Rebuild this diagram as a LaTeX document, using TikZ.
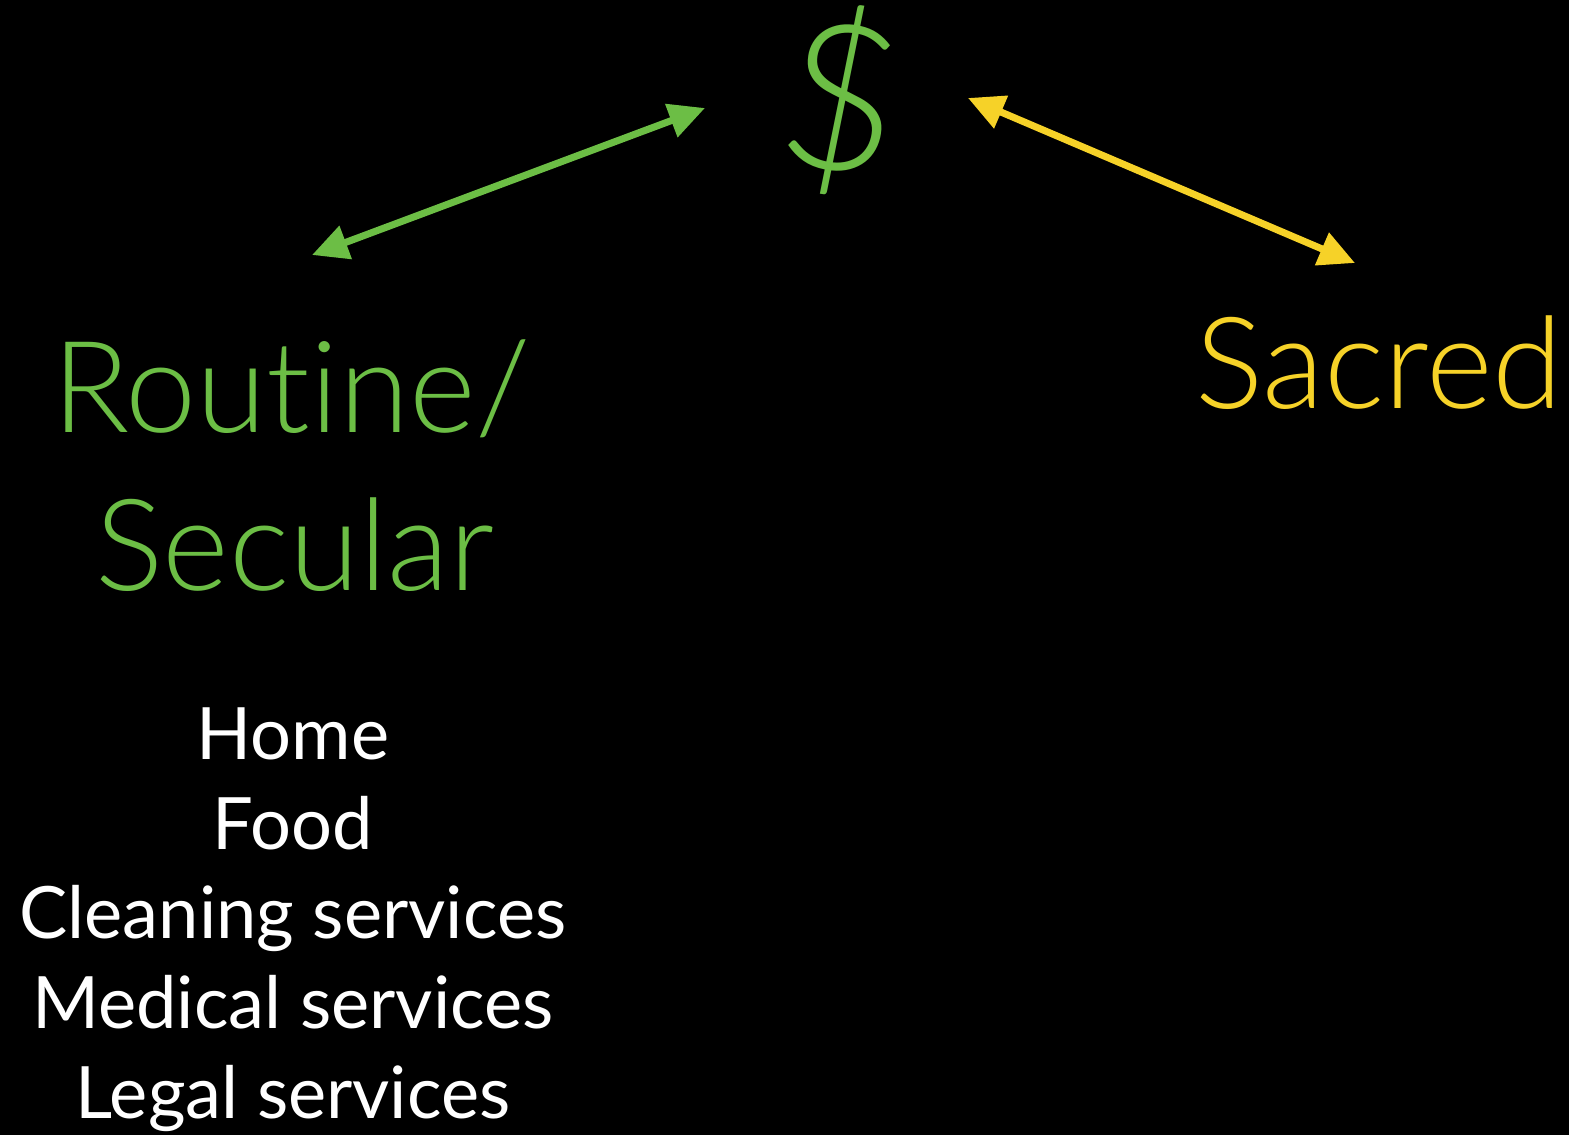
\documentclass[tikz,border=0pt]{standalone}
\usepackage{fontspec}
\setmainfont{Lato}
\newfontfamily\lightfont{Lato Light}[Ligatures=NoCommon]
\usetikzlibrary{arrows.meta}
\definecolor{grn}{RGB}{108,190,69}
\definecolor{ylw}{RGB}{246,210,40}
\tikzset{
  biarrow/.style={line width=7bp,{Triangle[length=36bp,width=34bp]}-{Triangle[length=36bp,width=34bp]}},
  title/.style={font=\lightfont\fontsize{128}{158}\selectfont, inner sep=0pt, anchor=base west},
  item/.style={font=\fontsize{72.5}{90}\selectfont, text=white, inner sep=0pt, align=center}
}
\begin{document}
\begin{tikzpicture}[x=1bp,y=-1bp]
\fill[black] (0,0) rectangle (1569,1135);
\useasboundingbox (0,0) rectangle (1569,1135);
\node[font=\lightfont\fontsize{205}{205}\selectfont, text=grn, rotate=-8.5, inner sep=0pt] (dollar) at (841,100) {\$};
\node[title, text=grn] (routine) at (52,432) {Routine/};
\node[title, text=grn] (secular) at (95,590) {Secular};
\node[title, text=ylw] (sacred) at (1195,408) {Sacred};
\coordinate (g1) at (312,255);
\coordinate (g2) at (705,108);
\coordinate (y1) at (968,98);
\coordinate (y2) at (1355,263);
\draw[biarrow, grn] (g1) -- (g2);
\draw[biarrow, ylw] (y1) -- (y2);
\node[item, anchor=base] (list) at (293,1118) {Home\\Food\\Cleaning services\\Medical services\\Legal services};
\end{tikzpicture}
\end{document}
